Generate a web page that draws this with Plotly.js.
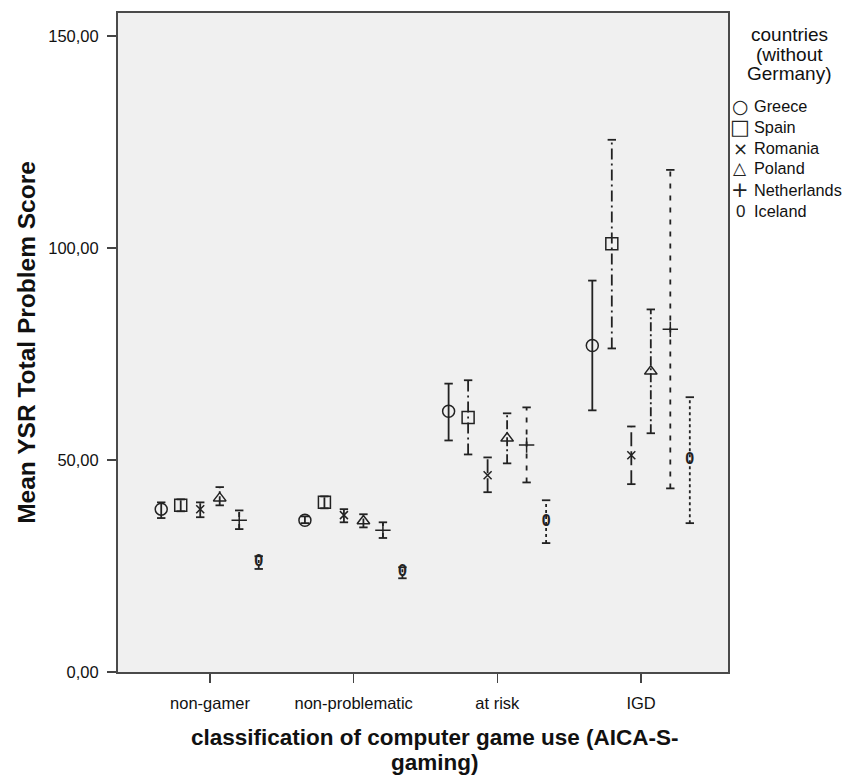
<!DOCTYPE html>
<html>
<head>
<meta charset="utf-8">
<script src="https://cdn.plot.ly/plotly-3.0.1.min.js"></script>
<style>html,body{margin:0;padding:0;background:#fff;}#chart{width:858px;height:775px;}</style>
</head>
<body>
<div id="chart"></div>
<script>
// ---- data ----
var categories = ['non-gamer', 'non-problematic', 'at risk', 'IGD'];
var countries = ['Greece', 'Spain', 'Romania', 'Poland', 'Netherlands', 'Iceland'];
var yTickVals = [0, 50, 100, 150];
var yTickText = ['0,00', '50,00', '100,00', '150,00'];

var greeceMean = [38.4, 35.8, 61.5, 77.0];
var greeceLow  = [36.3, 35.1, 54.6, 61.7];
var greeceHigh = [40.0, 36.7, 68.0, 92.3];

var spainMean = [39.3, 40.0, 60.0, 101.0];
var spainLow  = [37.9, 38.6, 51.3, 76.3];
var spainHigh = [40.7, 41.4, 68.8, 125.5];

var romaniaMean = [38.4, 37.0, 46.4, 51.1];
var romaniaLow  = [36.5, 35.3, 42.4, 44.3];
var romaniaHigh = [40.0, 38.4, 50.6, 57.9];

var polandMean = [41.0, 35.6, 55.1, 70.9];
var polandLow  = [39.3, 34.1, 49.2, 56.3];
var polandHigh = [43.6, 37.2, 61.0, 85.5];

var netherlandsMean = [35.8, 33.4, 53.5, 80.8];
var netherlandsLow  = [33.7, 31.6, 44.7, 43.3];
var netherlandsHigh = [38.1, 35.3, 62.4, 118.4];

var icelandMean = [25.9, 23.5, 35.3, 49.9];
var icelandLow  = [24.3, 22.1, 30.4, 35.1];
var icelandHigh = [27.3, 24.7, 40.5, 64.8];

var legendTitleLines = ['countries', '(without', 'Germany)'];
var xTitleLines = ['classification of computer game use (AICA-S-', 'gaming)'];

// ---- styling ----
var series = [
  {mean: greeceMean, low: greeceLow, high: greeceHigh, symbol: 'circle-open', size: 12, dash: 'solid', legendSym: '\u25CB', lsz: 19},
  {mean: spainMean, low: spainLow, high: spainHigh, symbol: 'square-open', size: 12, dash: '11px,4px,2px,4px', legendSym: '\u25A1', lsz: 21},
  {mean: romaniaMean, low: romaniaLow, high: romaniaHigh, symbol: 'x-thin-open', size: 8, dash: '14px,5px', legendSym: '\u00D7', lsz: 18},
  {mean: polandMean, low: polandLow, high: polandHigh, symbol: 'triangle-up-open', size: 11, dash: '9px,3px,2px,3px', legendSym: '\u25B3', lsz: 17},
  {mean: netherlandsMean, low: netherlandsLow, high: netherlandsHigh, symbol: 'cross-thin-open', size: 11, dash: '5px,7px', legendSym: '+', lsz: 21},
  {mean: icelandMean, low: icelandLow, high: icelandHigh, symbol: 'text', size: 16, dash: '3px,3px', legendSym: '0', lsz: 17}
];
var offsetStep = 0.1357;
var ink = '#222222';
var font = 'Liberation Sans, Arial, sans-serif';

var traces = [];
series.forEach(function (s, ci) {
  var off = (ci - 2.5) * offsetStep;
  var ex = [], ey = [], mx = [];
  categories.forEach(function (c, k) {
    var p = k + off;
    ex.push(p, p, null);
    ey.push(s.low[k], s.high[k], null);
    mx.push(p);
  });
  traces.push({
    x: ex, y: ey, type: 'scatter', mode: 'lines+markers', showlegend: false, hoverinfo: 'skip',
    line: {color: ink, width: 1.8, dash: s.dash},
    marker: {symbol: 'line-ew-open', size: 6, color: ink, line: {color: ink, width: 1.8}}
  });
  if (s.symbol === 'text') {
    traces.push({
      x: mx, y: s.mean, type: 'scatter', mode: 'text', text: mx.map(function () { return '0'; }),
      textposition: 'middle center',
      textfont: {family: font, size: s.size, color: ink, weight: 'bold'}, name: countries[ci], showlegend: false
    });
  } else {
    traces.push({
      x: mx, y: s.mean, type: 'scatter', mode: 'markers', name: countries[ci], showlegend: false,
      marker: {symbol: s.symbol, size: s.size, color: ink, line: {color: ink, width: 1.5}}
    });
  }
});

var W = 858, H = 775, ml = 118, mr = 130, mt = 13, mb = 103;
function px(x) { return (x - ml) / (W - ml - mr); }
function py(y) { return (H - mb - y) / (H - mt - mb); }

var annotations = [];
var ltY = [35, 54, 73];
legendTitleLines.forEach(function (t, i) {
  annotations.push({
    text: t, x: px(789), y: py(ltY[i]), xref: 'paper', yref: 'paper',
    showarrow: false, xanchor: 'center', yanchor: 'middle',
    font: {family: font, size: 19, color: '#111'}
  });
});
var legY = [106, 127, 148, 168, 190, 211];
series.forEach(function (s, ci) {
  annotations.push({
    text: s.legendSym, x: px(740), y: py(legY[ci]), xref: 'paper', yref: 'paper', showarrow: false,
    xanchor: 'center', yanchor: 'middle', font: {family: ci === 5 ? font : 'DejaVu Sans', size: s.lsz, color: ink}
  });
  annotations.push({
    text: countries[ci], x: px(752), y: py(legY[ci]), xref: 'paper', yref: 'paper', showarrow: false,
    xanchor: 'left', yanchor: 'middle', font: {family: font, size: 16.3, color: '#111'}
  });
});
var xtY = [737, 762];
xTitleLines.forEach(function (t, i) {
  annotations.push({
    text: t, x: px(435), y: py(xtY[i]), xref: 'paper', yref: 'paper',
    showarrow: false, xanchor: 'center', yanchor: 'middle',
    font: {family: font, size: 22.5, color: '#111', weight: 'bold'}
  });
});

var layout = {
  width: W, height: H,
  margin: {l: ml, r: mr, t: mt, b: mb, pad: 0},
  paper_bgcolor: '#ffffff',
  plot_bgcolor: '#f0f0f0',
  showlegend: false,
  xaxis: {
    range: [-0.64, 3.605], tickvals: [0, 1, 2, 3], ticktext: categories,
    ticks: 'outside', ticklen: 9, tickwidth: 1.5, tickcolor: '#444', ticklabelstandoff: 6,
    showgrid: false, zeroline: false, showline: true, linecolor: '#4a4a4a', linewidth: 2, mirror: true,
    tickfont: {family: font, size: 16.5, color: '#111'}
  },
  yaxis: {
    range: [0, 155.4], tickvals: yTickVals, ticktext: yTickText,
    ticks: 'outside', ticklen: 9, tickwidth: 1.5, tickcolor: '#444', ticklabelstandoff: 5,
    showgrid: false, zeroline: false, showline: true, linecolor: '#4a4a4a', linewidth: 2, mirror: true,
    tickfont: {family: font, size: 16.5, color: '#111'},
    title: {text: 'Mean YSR Total Problem Score', standoff: 6,
      font: {family: font, size: 24.5, color: '#111', weight: 'bold'}}
  },
  annotations: annotations
};

Plotly.newPlot('chart', traces, layout, {displayModeBar: false, staticPlot: true});
</script>
</body>
</html>
